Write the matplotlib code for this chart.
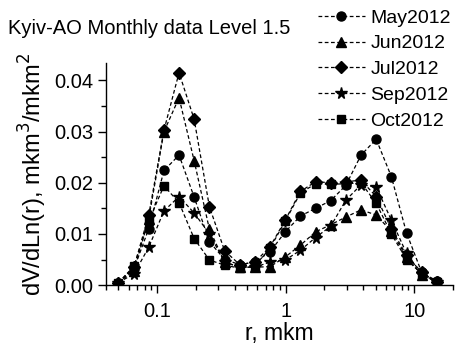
import numpy as np
import matplotlib
matplotlib.use('Agg')
import matplotlib.pyplot as plt
from matplotlib.ticker import FixedLocator, FixedFormatter, LogLocator, NullFormatter, MultipleLocator

plt.rcParams['font.family'] = ['Liberation Sans', 'DejaVu Sans']

# AERONET size bins, r (mkm)
radius = [0.050, 0.066, 0.086, 0.113, 0.148, 0.194, 0.255, 0.335, 0.439, 0.576, 0.756,
          0.992, 1.302, 1.708, 2.241, 2.940, 3.857, 5.061, 6.641, 8.713, 11.432, 15.000]

may2012 = [0.0005, 0.0032, 0.0110, 0.0224, 0.0254, 0.0172, 0.0085, 0.0050, 0.0040, 0.0045, 0.0065,
           0.0104, 0.0135, 0.0150, 0.0165, 0.0195, 0.0254, 0.0285, 0.0212, 0.0102, 0.0025, 0.0008]
jun2012 = [0.0005, 0.0028, 0.0130, 0.0300, 0.0366, 0.0243, 0.0109, 0.0045, 0.0035, 0.0035, 0.0036,
           0.0055, 0.0078, 0.0104, 0.0118, 0.0133, 0.0147, 0.0137, 0.0105, 0.0055, 0.0020, 0.0006]
jul2012 = [0.0005, 0.0035, 0.0137, 0.0303, 0.0415, 0.0324, 0.0153, 0.0067, 0.0040, 0.0045, 0.0075,
           0.0127, 0.0183, 0.0202, 0.0200, 0.0202, 0.0205, 0.0173, 0.0110, 0.0058, 0.0025, 0.0006]
sep2012 = [0.0005, 0.0022, 0.0074, 0.0145, 0.0173, 0.0141, 0.0100, 0.0045, 0.0035, 0.0035, 0.0045,
           0.0049, 0.0068, 0.0093, 0.0115, 0.0166, 0.0196, 0.0192, 0.0127, 0.0062, 0.0022, 0.0006]
oct2012 = [0.0005, 0.0037, 0.0126, 0.0194, 0.0161, 0.0091, 0.0049, 0.0039, 0.0033, 0.0038, 0.0072,
           0.0125, 0.0180, 0.0198, 0.0197, 0.0198, 0.0200, 0.0160, 0.0100, 0.0050, 0.0022, 0.0006]

labels = ['May2012', 'Jun2012', 'Jul2012', 'Sep2012', 'Oct2012']
markers = ['o', '^', 'D', '*', 's']
msizes = [6.5, 7, 6, 8.5, 6]

fig = plt.figure(figsize=(4.57, 3.46), dpi=100)
ax = fig.add_axes([0.232, 0.176, 0.759, 0.642])

for y, lab, m, ms in zip([may2012, jun2012, jul2012, sep2012, oct2012], labels, markers, msizes):
    ax.plot(radius, y, color='black', linestyle=(0, (3, 2)), linewidth=0.9,
            marker=m, markersize=ms, markerfacecolor='black', markeredgecolor='black',
            label=lab)

ax.set_xscale('log')
ax.set_xlim(0.04, 20)
ax.set_ylim(0, 0.0434)

ax.xaxis.set_major_locator(FixedLocator([0.1, 1, 10]))
ax.xaxis.set_major_formatter(FixedFormatter(['0.1', '1', '10']))
ax.xaxis.set_minor_locator(LogLocator(base=10, subs=np.arange(2, 10)))
ax.xaxis.set_minor_formatter(NullFormatter())
ax.yaxis.set_major_locator(MultipleLocator(0.01))
ax.yaxis.set_major_formatter(plt.FuncFormatter(lambda v, p: '%.2f' % v))
ax.yaxis.set_minor_locator(MultipleLocator(0.005))

ax.spines['top'].set_visible(False)
ax.spines['right'].set_visible(False)
for s in ['left', 'bottom']:
    ax.spines[s].set_linewidth(1.0)
ax.tick_params(which='major', direction='out', length=6, width=1.0, labelsize=14.5)
ax.tick_params(which='minor', direction='out', length=3.5, width=1.0)
ax.tick_params(axis='y', pad=3)
ax.tick_params(axis='x', pad=6)

ax.set_xlabel('r, mkm', fontsize=16.5, labelpad=1)
ax.set_ylabel('dV/dLn(r), mkm$^3$/mkm$^2$', fontsize=17, labelpad=4)

fig.text(8 / 457, 1 - 29 / 346, 'Kyiv-AO Monthly data Level 1.5', fontsize=14.5,
         ha='left', va='center')

fig.legend(loc='upper left', bbox_to_anchor=(318 / 457, 1 - 9 / 346), frameon=False,
           fontsize=14, handlelength=2.4, handletextpad=0.3, labelspacing=0.42,
           borderpad=0, borderaxespad=0)

fig.savefig('out.png', dpi=100)
